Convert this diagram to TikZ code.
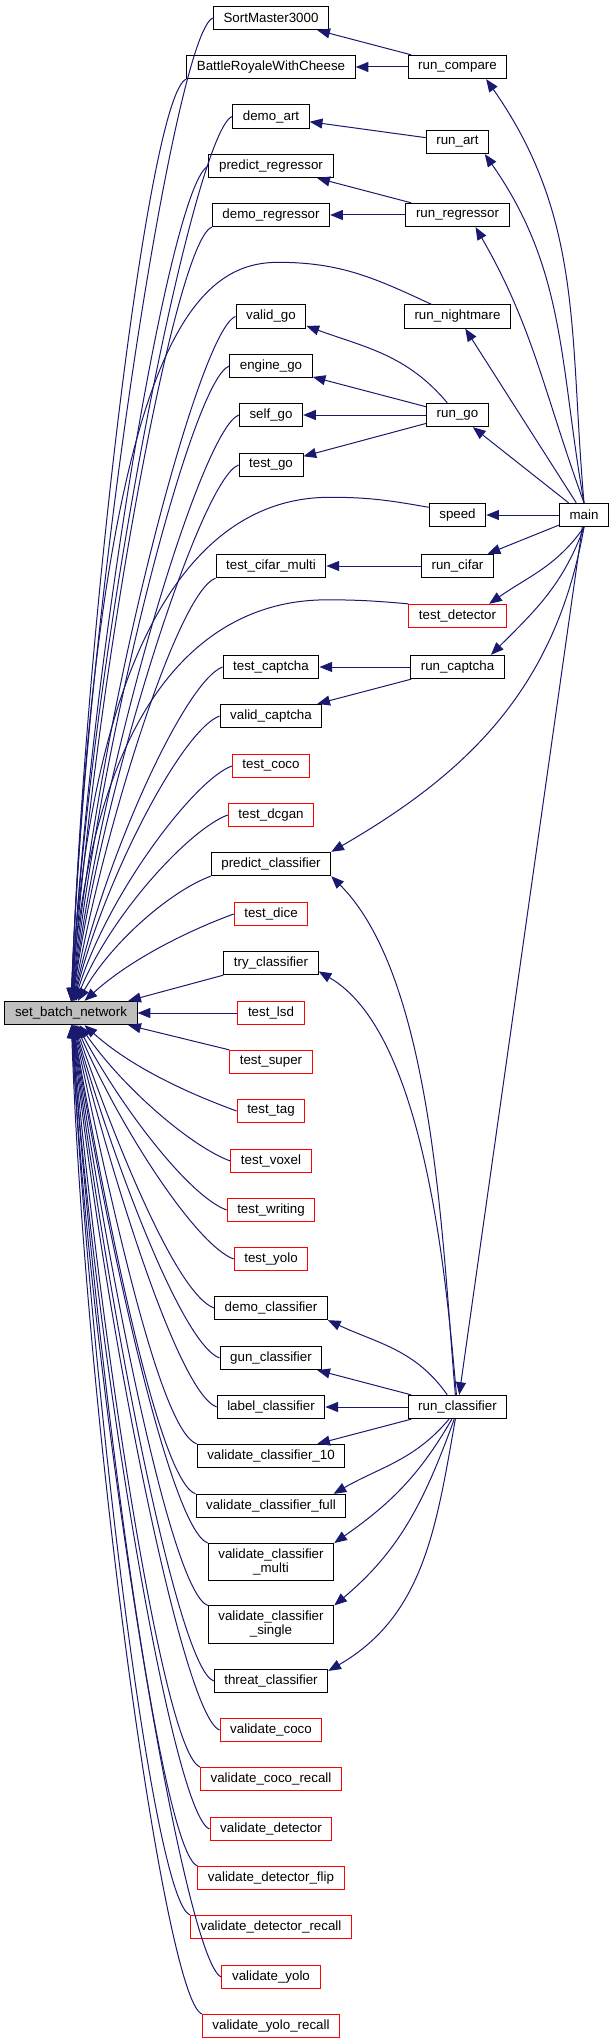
\documentclass[tikz,border=0pt]{standalone}
\usepackage{fontspec}
\setmainfont{Liberation Sans}
\usetikzlibrary{arrows.meta}
\definecolor{navy}{HTML}{191970}

\begin{document}
\begin{tikzpicture}[x=0.75pt,y=-0.75pt,
    fn/.style={rectangle,draw,line width=0.75pt,minimum height=17.5pt,inner xsep=7.6pt,inner ysep=4pt,font=\fontsize{10}{10.5}\selectfont,align=center},
    undoc/.style={fn,draw=red},
    call/.style={->,>={Triangle[length=9.5pt,width=7.5pt]},draw=navy,line width=0.75pt},
    fanin/.style={call,out max distance=30pt}]
    \useasboundingbox (0,0) rectangle (615,2044);
    \node[fn,fill=gray!50] (sbn) at (71,1013) {set\_batch\_network};
    \node[fn] (main) at (584,515) {main};
    \node[fn] (sm) at (271,18) {SortMaster3000};
    \node[fn] (brwc) at (271,67) {BattleRoyaleWithCheese};
    \node[fn] (dart) at (271,116.5) {demo\_art};
    \node[fn] (preg) at (271,166) {predict\_regressor};
    \node[fn] (dreg) at (271,215) {demo\_regressor};
    \node[fn] (vgo) at (271,316.5) {valid\_go};
    \node[fn] (ego) at (271,366) {engine\_go};
    \node[fn] (sgo) at (271,415) {self\_go};
    \node[fn] (tgo) at (271,465) {test\_go};
    \node[fn] (tcm) at (271,566) {test\_cifar\_multi};
    \node[fn] (tcap) at (271,667) {test\_captcha};
    \node[fn] (vcap) at (271,716) {valid\_captcha};
    \node[undoc] (tcoco) at (271,766) {test\_coco};
    \node[undoc] (tdcgan) at (271,815) {test\_dcgan};
    \node[fn] (pcls) at (271,864) {predict\_classifier};
    \node[undoc] (tdice) at (271,914) {test\_dice};
    \node[fn] (trycls) at (271,963) {try\_classifier};
    \node[undoc] (tlsd) at (271,1013) {test\_lsd};
    \node[undoc] (tsuper) at (271,1062) {test\_super};
    \node[undoc] (ttag) at (271,1111) {test\_tag};
    \node[undoc] (tvoxel) at (271,1161) {test\_voxel};
    \node[undoc] (twriting) at (271,1210) {test\_writing};
    \node[undoc] (tyolo) at (271,1259) {test\_yolo};
    \node[fn] (dcls) at (271,1308) {demo\_classifier};
    \node[fn] (gcls) at (271,1358) {gun\_classifier};
    \node[fn] (lcls) at (271,1407) {label\_classifier};
    \node[fn] (vc10) at (271,1456) {validate\_classifier\_10};
    \node[fn] (vcfull) at (271,1506) {validate\_classifier\_full};
    \node[fn] (vcmulti) at (271,1562) {validate\_classifier\\\_multi};
    \node[fn] (vcsingle) at (271,1624.5) {validate\_classifier\\\_single};
    \node[fn] (tcls) at (271,1681) {threat\_classifier};
    \node[undoc] (vcoco) at (271,1730) {validate\_coco};
    \node[undoc] (vcocor) at (271,1779) {validate\_coco\_recall};
    \node[undoc] (vdet) at (271,1829) {validate\_detector};
    \node[undoc] (vdetf) at (271,1878) {validate\_detector\_flip};
    \node[undoc] (vdetr) at (271,1927) {validate\_detector\_recall};
    \node[undoc] (vyolo) at (271,1977) {validate\_yolo};
    \node[undoc] (vyolor) at (271,2026) {validate\_yolo\_recall};
    \node[fn] (rcmp) at (457.5,67) {run\_compare};
    \node[fn] (rart) at (457.5,142) {run\_art};
    \node[fn] (rreg) at (457.5,215) {run\_regressor};
    \node[fn] (rnm) at (457.5,316.5) {run\_nightmare};
    \node[fn] (rgo) at (457.5,415) {run\_go};
    \node[fn] (speed) at (457.5,515) {speed};
    \node[fn] (rcifar) at (457.5,566) {run\_cifar};
    \node[undoc] (tdet) at (457.5,616) {test\_detector};
    \node[fn] (rcap) at (457.5,667) {run\_captcha};
    \node[fn] (rcls) at (457.5,1407) {run\_classifier};
    \draw[call] (main.north) to[out=95,in=-55] (rcmp.-23); \draw[call] (main.north) to[out=100,in=-55] (rart.-24);
    \draw[call] (main.north) to[out=110,in=-60] (rreg.-34); \draw[call] (main) -- (rnm);
    \draw[call] (main) -- (rgo); \draw[call] (main) -- (speed); \draw[call] (main) -- (rcifar);
    \draw[call] (main.south) to[out=-125,in=35] (tdet.21); \draw[call] (main.south) to[out=-110,in=45] (rcap.20);
    \draw[call] (main.south) to[out=-100,in=30] (pcls.north east); \draw[call] (main) -- (rcls);
    \draw[call] (rcmp) -- (sm); \draw[call] (rcmp) -- (brwc);
    \draw[call] (rart) -- (dart);
    \draw[call] (rreg) -- (preg); \draw[call] (rreg) -- (dreg);
    \draw[call] (rgo.130) to[out=130,in=-20] (vgo.-15); \draw[call] (rgo) -- (ego);
    \draw[call] (rgo) -- (sgo); \draw[call] (rgo) -- (tgo);
    \draw[call] (rcifar) -- (tcm);
    \draw[call] (rcap) -- (tcap); \draw[call] (rcap) -- (vcap);
    \draw[call] (rcls.100) to[out=95,in=-45,looseness=0.7] (pcls.south east);
    \draw[call] (rcls.95) to[out=95,in=-30,looseness=0.7] (trycls.-10);
    \draw[call] (rcls.130) to[out=125,in=-25] (dcls.south east);
    \draw[call] (rcls) -- (gcls); \draw[call] (rcls) -- (lcls); \draw[call] (rcls) -- (vc10);
    \draw[call] (rcls.-125) to[out=-130,in=30] (vcfull.11);
    \draw[call] (rcls.-115) to[out=-120,in=35] (vcmulti.north east);
    \draw[call] (rcls.-105) to[out=-110,in=40] (vcsingle.north east);
    \draw[call] (rcls.-100) to[out=-100,in=30] (tcls.10);
    \draw[call] (rnm.155) to[out=155,in=0] ++(-153,-42) .. controls +(-78,0) and +(29,-671) .. (sbn.north);
    \draw[call] (speed.165) to[out=170,in=0] ++(-98,-10) .. controls +(-60,0) and +(29,-481) .. (sbn.north);
    \draw[call] (tdet.north west) to[out=175,in=0] ++(-81,-4) .. controls +(-60,0) and +(29,-380) .. (sbn.north);
    \draw[fanin] (sm.west) to[out=200,in=88] (sbn.88); \draw[fanin] (brwc.south west) to[out=200,in=88] (sbn.88);
    \draw[fanin] (dart.west) to[out=200,in=87] (sbn.87); \draw[fanin] (preg.west) to[out=200,in=87] (sbn.87);
    \draw[fanin] (dreg.south west) to[out=200,in=86] (sbn.86); \draw[fanin] (vgo.west) to[out=200,in=85] (sbn.85);
    \draw[fanin] (ego.west) to[out=200,in=84] (sbn.84); \draw[fanin] (sgo.west) to[out=200,in=83] (sbn.83);
    \draw[fanin] (tgo.west) to[out=200,in=82] (sbn.82); \draw[fanin] (tcm.south west) to[out=200,in=80] (sbn.80);
    \draw[fanin] (tcap.west) to[out=200,in=78] (sbn.78); \draw[fanin] (vcap.west) to[out=200,in=76] (sbn.76);
    \draw[fanin] (tcoco.west) to[out=200,in=73] (sbn.73); \draw[fanin] (tdcgan.west) to[out=200,in=68] (sbn.68);
    \draw[fanin] (pcls.south west) to[out=200,in=60] (sbn.60); \draw[fanin] (tdice.west) to[out=200,in=42] (sbn.42);
    \draw[call] (trycls.south west) -- (sbn.12); \draw[call] (tlsd) -- (sbn); \draw[call] (tsuper.north west) -- (sbn.-12);
    \draw[fanin] (ttag.west) to[out=160,in=-42] (sbn.-42); \draw[fanin] (tvoxel.west) to[out=160,in=-55] (sbn.-55);
    \draw[fanin] (twriting.west) to[out=160,in=-62] (sbn.-62); \draw[fanin] (tyolo.west) to[out=160,in=-67] (sbn.-67);
    \draw[fanin] (dcls.west) to[out=160,in=-71] (sbn.-71); \draw[fanin] (gcls.west) to[out=160,in=-74] (sbn.-74);
    \draw[fanin] (lcls.west) to[out=160,in=-76] (sbn.-76); \draw[fanin] (vc10.north west) to[out=160,in=-78] (sbn.-78);
    \draw[fanin] (vcfull.north west) to[out=160,in=-80] (sbn.-80); \draw[fanin] (vcmulti.north west) to[out=160,in=-81] (sbn.-81);
    \draw[fanin] (vcsingle.north west) to[out=160,in=-82] (sbn.-82); \draw[fanin] (tcls.west) to[out=160,in=-83] (sbn.-83);
    \draw[fanin] (vcoco.west) to[out=160,in=-84] (sbn.-84); \draw[fanin] (vcocor.north west) to[out=160,in=-85] (sbn.-85);
    \draw[fanin] (vdet.west) to[out=160,in=-86] (sbn.-86); \draw[fanin] (vdetf.north west) to[out=160,in=-86] (sbn.-86);
    \draw[fanin] (vdetr.north west) to[out=160,in=-87] (sbn.-87); \draw[fanin] (vyolo.west) to[out=160,in=-87] (sbn.-87);
    \draw[fanin] (vyolor.north west) to[out=160,in=-88] (sbn.-88);
\end{tikzpicture}
\end{document}
